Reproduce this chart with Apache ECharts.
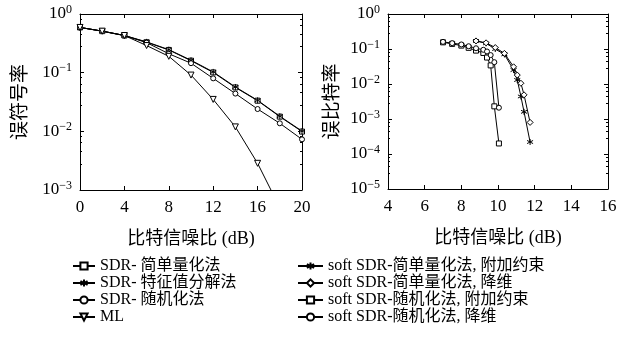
<!DOCTYPE html>
<html><head><meta charset="utf-8">
<script src="https://cdn.jsdelivr.net/npm/echarts@6/dist/echarts.min.js"></script>
<style>html,body{margin:0;padding:0;background:#fff}#c{width:636px;height:345px}</style>
</head><body><div id="c"></div>
<script>
// ---- data ----
const snrLeft = [0, 2, 4, 6, 8, 10, 12, 14, 16, 18, 20];
const serSimple = [0.59, 0.51, 0.43, 0.33, 0.244, 0.16, 0.101, 0.056, 0.0333, 0.0178, 0.0099];
const serEigen  = [0.59, 0.51, 0.43, 0.335, 0.247, 0.163, 0.103, 0.057, 0.0338, 0.0181, 0.0101];
const serRandom = [0.59, 0.51, 0.43, 0.325, 0.21, 0.145, 0.080, 0.044, 0.024, 0.0137, 0.0073];
const serML     = [0.59, 0.51, 0.43, 0.29, 0.19, 0.091, 0.035, 0.0119, 0.00285, 0.0005];

const snrSimpleSoft = [8.8, 9.35, 9.85, 10.35, 10.85, 11.05, 11.25, 11.42, 11.75];
const berSimpleCons = [0.17, 0.145, 0.10, 0.07, 0.025, 0.013, 0.0044, 0.0016, 0.00022];
const berSimpleDim  = [0.17, 0.15, 0.11, 0.075, 0.031, 0.018, 0.0105, 0.0049, 0.0008];

const snrRandomSoft = [7.0, 7.5, 8.0, 8.4, 8.8, 9.2, 9.4, 9.6, 9.8, 10.05];
const berRandomCons = [0.155, 0.14, 0.125, 0.108, 0.09, 0.077, 0.057, 0.034, 0.0023, 0.0002];
const berRandomDim  = [0.16, 0.147, 0.135, 0.12, 0.105, 0.095, 0.085, 0.067, 0.042, 0.0021];

const leftNames = ['SDR- 简单量化法', 'SDR- 特征值分解法', 'SDR- 随机化法', 'ML'];
const rightNames = ['soft SDR-简单量化法, 附加约束', 'soft SDR-简单量化法, 降维', 'soft SDR-随机化法, 附加约束', 'soft SDR-随机化法, 降维'];
const xName = '比特信噪比 (dB)';
const yNameLeft = '误符号率';
const yNameRight = '误比特率';

// ---- chart ----
const FONT = '"Liberation Serif", "DejaVu Serif", "Noto Sans CJK SC", serif';
const pairs = (xs, ys) => ys.map((y, i) => [xs[i], y]);
const STAR = 'path://M0,-5L0,5M-4.5,-2.6L4.5,2.6M-4.5,2.6L4.5,-2.6';

function supFmt(v) {
  const e = Math.round(Math.log10(v));
  return '{b|10}{s|' + (e < 0 ? '\u2212' + (-e) : e) + '}';
}
const rich = {
  b: { fontSize: 17, fontFamily: FONT, color: '#000' },
  s: { fontSize: 12, fontFamily: FONT, color: '#000', padding: [0, 0, 9, 0] }
};

function mkSeries(name, data, symbol, gi, extra) {
  return Object.assign({
    name, type: 'line', data, xAxisIndex: gi, yAxisIndex: gi,
    symbol, symbolSize: 5, showAllSymbol: true,
    lineStyle: { color: '#000', width: 1 },
    itemStyle: { color: '#fff', borderColor: '#000', borderWidth: 1 },
    emphasis: { disabled: true }, animation: false, clip: true
  }, extra || {});
}

function xAx(gi, min, max, interval, main) {
  return {
    type: 'value', gridIndex: gi, min, max, interval,
    position: main ? 'bottom' : 'top',
    name: main ? xName : '', nameLocation: 'middle', nameGap: 40,
    nameTextStyle: { fontSize: 18, fontFamily: FONT, color: '#000' },
    axisLine: { show: true, onZero: false, lineStyle: { color: '#000', width: 1 } },
    axisTick: { show: true, inside: true, length: 4, lineStyle: { color: '#000' } },
    axisLabel: { show: main, fontSize: 17, fontFamily: FONT, color: '#000', margin: 9 },
    splitLine: { show: false }
  };
}
function yAx(gi, min, max, main, name, gap) {
  return {
    type: 'log', logBase: 10, gridIndex: gi, min, max,
    position: main ? 'left' : 'right',
    name: main ? name : '', nameLocation: 'middle', nameGap: gap || 48,
    nameRotate: 90,
    nameTextStyle: { fontSize: 19, fontFamily: FONT, color: '#000' },
    axisLine: { show: true, onZero: false, lineStyle: { color: '#000', width: 1 } },
    axisTick: { show: true, inside: true, length: 4, lineStyle: { color: '#000' } },
    minorTick: { show: true, splitNumber: 5, length: 2, lineStyle: { color: '#000' } },
    axisLabel: { show: main, formatter: supFmt, rich, margin: 8 },
    splitLine: { show: false }
  };
}

const legendText = { fontSize: 16, fontFamily: FONT, color: '#000', padding: 0 };

const chart = echarts.init(document.getElementById('c'), null, { renderer: 'canvas' });
chart.setOption({
  animation: false,
  backgroundColor: '#fff',
  textStyle: { fontFamily: FONT },
  grid: [
    { left: 80, top: 14, width: 222, height: 176 },
    { left: 388, top: 14, width: 220, height: 175 },
    { left: 80, top: 14, width: 222, height: 176 },
    { left: 388, top: 14, width: 220, height: 175 }
  ],
  xAxis: [
    xAx(0, 0, 20, 4, true), xAx(1, 4, 16, 2, true),
    xAx(2, 0, 20, 4, false), xAx(3, 4, 16, 2, false)
  ],
  yAxis: [
    yAx(0, 0.001, 1, true, yNameLeft, 49), yAx(1, 0.00001, 1, true, yNameRight, 45),
    yAx(2, 0.001, 1, false, ''), yAx(3, 0.00001, 1, false, '')
  ],
  legend: [
    {
      data: leftNames, left: 72, top: 258, orient: 'vertical', padding: 0,
      itemWidth: 22, itemHeight: 9, itemGap: 1,
      textStyle: legendText
    },
    {
      data: rightNames, left: 297, top: 258, orient: 'vertical', padding: 0,
      itemWidth: 25, itemHeight: 9, itemGap: 1,
      textStyle: legendText
    }
  ],
  series: [
    mkSeries(leftNames[0], pairs(snrLeft, serSimple), 'rect', 0),
    mkSeries(leftNames[1], pairs(snrLeft, serEigen), STAR, 0, { symbolSize: 6 }),
    mkSeries(leftNames[2], pairs(snrLeft, serRandom), 'circle', 0),
    mkSeries(leftNames[3], pairs(snrLeft, serML), 'triangle', 0, { symbolRotate: 180, symbolSize: 6 }),
    mkSeries(rightNames[0], pairs(snrSimpleSoft, berSimpleCons), STAR, 1, { symbolSize: 6 }),
    mkSeries(rightNames[1], pairs(snrSimpleSoft, berSimpleDim), 'diamond', 1, { symbolSize: 6 }),
    mkSeries(rightNames[2], pairs(snrRandomSoft, berRandomCons), 'rect', 1),
    mkSeries(rightNames[3], pairs(snrRandomSoft, berRandomDim), 'circle', 1)
  ]
});
</script></body></html>
